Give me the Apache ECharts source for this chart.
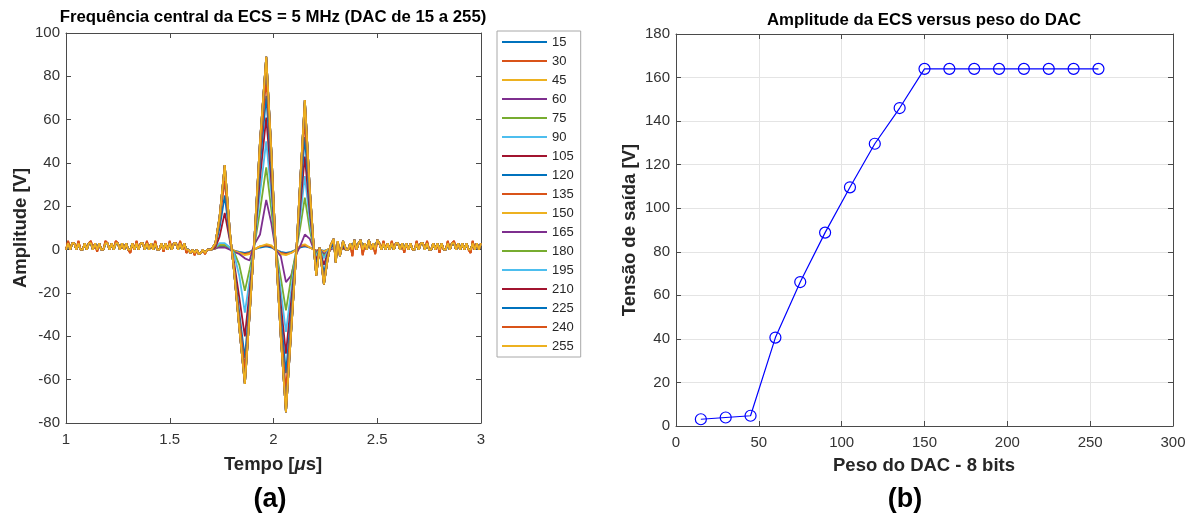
<!DOCTYPE html>
<html>
<head>
<meta charset="utf-8">
<script src="https://cdn.jsdelivr.net/npm/echarts@6/dist/echarts.min.js"></script>
<style>
  html, body { margin: 0; padding: 0; background: #fff; }
  #chart { width: 1195px; height: 515px; }
</style>
</head>
<body>
<div id="chart"></div>
<script>
// ---- DAC weights (legend entries and x values of panel b) ----
const dacWeights = [15, 30, 45, 60, 75, 90, 105, 120, 135, 150, 165, 180, 195, 210, 225, 240, 255];

// ---- Panel (b): output amplitude (peak to peak) for each DAC weight, in V ----
const outputVoltage = [3.1, 3.9, 4.7, 40.6, 66.1, 88.8, 109.6, 129.6, 146, 164, 164, 164, 164, 164, 164, 164, 164];

// ---- Panel (a): sampled waveforms ----
// quiet samples before the pulse: 1.00 .. 1.69 us, and after it: 2.36 .. 3.00 us
const SAMPLE_STEP = 0.01;
const preStart = 1.00;
const postStart = 2.36;

const preNoiseA = [
  0, 3, 0, 3, 3, 0, 3, 0, 0, 3,
  0, 3, 3, 0, 3, 0, 3, 0, 0, 3,
  3, 0, 3, 0, 3, 3, 0, 3, 0, 3,
  0, 0, 3, 0, 3, 0, 3, 3, 0, 3,
  0, 3, 0, 3, 0, 0, 3, 0, 3, 0,
  3, 0, 3, 3, 0, 3, 0, 3, 0, 0,
  -1.5, 0, -1.5, 0, -2, -1.5, 0, -1.5, 0, 0
];
const preNoiseB = [
  0, 4, 0, 3, 3, 0, 4, 0, 0, 3,
  0, 3, 4, 0, 3, -1, 3, 0, 0, 4,
  3, 0, 3, 0, 4, 3, 0, 3, 0, 3,
  0, -1.5, 3, 0, 4, 0, 3, 3, 0, 4,
  0, 3, 0, 4, 0, 0, 3, -1, 3, 0,
  4, 0, 3, 3, 0, 4, 0, 3, -1.5, 0,
  -1.5, 0, -2.5, 0, -2, -1.5, 0, -2, 0, 0
];
const postNoiseA = [
  0, 3, 0, 4.5, 0, 3, 4.5, 0, 3, 0,
  4.5, 0, 3, 0, 4.5, 3, 0, 3, 0, 3,
  0, 3, 0, 3, 3, 0, 3, 0, 3, 0,
  3, 0, 0, 3, 0, 3, 3, 0, 3, 0,
  0, 3, 0, 3, 0, 3, 0, 0, 3, 0,
  3, 3, 0, 3, 0, 3, 0, 3, 0, 0,
  3, 0, 3, 0, 3
];
const postNoiseB = [
  0, 3, -3, 4.5, 0, 3, 4.5, -2.5, 3, 0,
  4.5, 0, 3, -2, 4.5, 3, 0, 4, 0, 3,
  0, 4, 0, 3, 3, 0, 3, -1.5, 3, 0,
  3, 0, 0, 4, 0, 3, 3, 0, 4, 0,
  0, 3, 0, 3, -1.5, 3, 0, 0, 4, 0,
  3, 4, 0, 3, 0, 3, 0, 3, 0, -1.5,
  4, 0, 3, 0, 3
];

// pulse region, sampled at its turning points (us)
const pulseTimes = [
  1.70, 1.72, 1.74, 1.765, 1.79, 1.81, 1.835, 1.862, 1.885, 1.905, 1.935,
  1.965, 1.99, 2.01, 2.035, 2.06, 2.085, 2.11, 2.13, 2.151, 2.175, 2.195,
  2.206, 2.222, 2.243, 2.26, 2.275, 2.29, 2.30, 2.31, 2.32, 2.335, 2.35
];
// amplitude (V) at pulseTimes for each DAC weight
const pulse15  = [0, 0.5, 1.5, 1.5, 0.5, -0.5, -1, -1.5, -1, 0, 1, 1.5, 1, 0, -1, -1.5, -1, 0, 1, 1.5, 1, 0, -0.5, 0, -0.5, 0, 0.5, 0.5, 0, 0.5, 0, 0.5, 0];
const pulse30  = [0, 0.5, 2, 2, 1, -0.5, -1.5, -2, -1.5, 0, 1.5, 2, 1.5, 0, -1.5, -2, -1.5, 0, 1.5, 2, 1, 0, -0.5, 0, -1, 0, 0.5, 1, 0, 0.5, 0, 0.5, 0];
const pulse45  = [0, 1, 2.5, 2.5, 1, -0.5, -1.5, -2.5, -2, 0, 1.5, 2.5, 2, 0, -2, -2.5, -1.5, 0, 2, 2.5, 1, 0, -1, 0, -1, 0, 0.5, 1, -0.5, 0.5, 0, 0.5, 0];
const pulse60  = [0, 1, 1, 1, 0, -1, -2, -4, -5, 2, 7, 23, 12, 0, -3, -15, -12, -2, 2, 7, 5, 0, -1, 0, -2, -1, 0, 1, -1, 1, 0, 1, 0];
const pulse75  = [0, 1, 2, 2, 1, -1, -7, -19, -9, 0, 18, 38, 18, 1, -13, -28, -13, 0, 11, 24, 9, 0, -2, 0, -3, -1, 1, 1, -1, 1, 0, 1, 0];
const pulse90  = [0, 1, 3, 3, 1, -2, -12, -29, -14, 0, 26, 50, 25, 1, -19, -38, -19, 0, 16, 34, 13, 0, -3, 0, -4, -1, 1, 1, -2, 1, -1, 1, 0];
const pulse105 = [0, 1, 6, 17, 4, -6, -22, -40, -19, 0, 33, 61, 31, 1, -25, -48, -24, -1, 21, 43, 17, 0, -5, 0, -7, -2, 1, 2, -3, 2, -1, 1, 0];
const pulse120 = [0, 2, 10, 25, 5, -8, -29, -50, -24, 0, 39, 71, 36, 1, -30, -57, -29, -1, 26, 52, 21, 0, -8, 1, -11, -3, 1, 3, -4, 2, -2, 2, 0];
const pulse135 = [0, 2, 13, 32, 6, -9, -32, -55, -27, 0, 44, 79, 40, 2, -35, -65, -33, -1, 30, 60, 24, 0, -10, 1, -14, -4, 2, 4, -5, 3, -2, 3, 0];
// weights 150 and above saturate the driver
const pulseSaturated = [0, 3, 15, 39, 8, -10, -36, -62, -30, 0, 50, 89, 45, 2, -40, -75, -38, -1, 34, 69, 28, 0, -12, 1, -16, -5, 2, 5, -6, 4, -3, 4, 0];

const pulseByWeight = [
  pulse15, pulse30, pulse45, pulse60, pulse75, pulse90, pulse105, pulse120, pulse135,
  pulseSaturated, pulseSaturated, pulseSaturated, pulseSaturated,
  pulseSaturated, pulseSaturated, pulseSaturated, pulseSaturated
];

// axis ticks
const timeTicks = { min: 1, max: 3, step: 0.5 };
const ampTicks = { min: -80, max: 100, step: 20 };
const weightTicks = { min: 0, max: 300, step: 50 };
const voltTicks = { min: 0, max: 180, step: 20 };

// MATLAB default line colour order
const lineColors = ['#0072BD', '#D95319', '#EDB120', '#7E2F8E', '#77AC30', '#4DBEEE', '#A2142F'];

const FONT = '"Liberation Sans", Arial, Helvetica, sans-serif';
const AXIS_COLOR = '#4a4a4a';
const LABEL_COLOR = '#333333';

function waveform(idx) {
  const color = lineColors[idx % lineColors.length];
  const useB = color === '#D95319';
  const pre = useB ? preNoiseB : preNoiseA;
  const post = useB ? postNoiseB : postNoiseA;
  const pts = [];
  pre.forEach((v, i) => pts.push([+(preStart + i * SAMPLE_STEP).toFixed(3), v]));
  pulseByWeight[idx].forEach((v, i) => pts.push([pulseTimes[i], v]));
  post.forEach((v, i) => pts.push([+(postStart + i * SAMPLE_STEP).toFixed(3), v]));
  return pts;
}

const waveSeries = dacWeights.map((w, idx) => ({
  name: String(w),
  type: 'line',
  xAxisIndex: 0,
  yAxisIndex: 0,
  data: waveform(idx),
  symbol: 'none',
  showSymbol: false,
  animation: false,
  lineStyle: { width: 1.8, color: lineColors[idx % lineColors.length] },
  itemStyle: { color: lineColors[idx % lineColors.length] },
  emphasis: { disabled: true }
}));

const ampSeries = {
  name: 'Amplitude',
  type: 'line',
  xAxisIndex: 2,
  yAxisIndex: 2,
  data: dacWeights.map((w, i) => [w, outputVoltage[i]]),
  symbol: 'circle',
  symbolSize: 11,
  showAllSymbol: true,
  animation: false,
  lineStyle: { width: 1.2, color: '#0000ff' },
  itemStyle: { color: 'rgba(0,0,0,0)', borderColor: '#0000ff', borderWidth: 1.2 },
  emphasis: { disabled: true }
};

function axisBase(t, extra) {
  return Object.assign({
    type: 'value',
    min: t.min,
    max: t.max,
    interval: t.step,
    axisLine: { show: true, onZero: false, lineStyle: { color: AXIS_COLOR, width: 1 } },
    axisTick: { show: true, inside: true, length: 5, lineStyle: { color: AXIS_COLOR } },
    axisLabel: { show: true, color: LABEL_COLOR, fontSize: 15, fontFamily: FONT },
    splitLine: { show: false }
  }, extra);
}
const noLabel = { show: false };
const gridLines = { show: true, lineStyle: { color: '#e4e4e4', width: 1 } };
const tickLabelX = { color: LABEL_COLOR, fontSize: 15, fontFamily: FONT, margin: 9 };
const tickLabelY = { color: LABEL_COLOR, fontSize: 15, fontFamily: FONT, margin: 6 };

const option = {
  backgroundColor: '#ffffff',
  animation: false,
  grid: [
    { left: 66, top: 33, width: 415, height: 390 },
    { left: 676, top: 34, width: 497, height: 392 }
  ],
  xAxis: [
    axisBase(timeTicks, { gridIndex: 0, position: 'bottom', axisLabel: tickLabelX }),
    axisBase(timeTicks, { gridIndex: 0, position: 'top', axisLabel: noLabel }),
    axisBase(weightTicks, { gridIndex: 1, position: 'bottom', splitLine: gridLines, axisLabel: tickLabelX }),
    axisBase(weightTicks, { gridIndex: 1, position: 'top', axisLabel: noLabel })
  ],
  yAxis: [
    axisBase(ampTicks, { gridIndex: 0, position: 'left', axisLabel: tickLabelY }),
    axisBase(ampTicks, { gridIndex: 0, position: 'right', axisLabel: noLabel }),
    axisBase(voltTicks, { gridIndex: 1, position: 'left', splitLine: gridLines, axisLabel: tickLabelY }),
    axisBase(voltTicks, { gridIndex: 1, position: 'right', axisLabel: noLabel })
  ],
  legend: {
    data: dacWeights.map(String),
    orient: 'vertical',
    left: 497,
    top: 31,
    icon: 'rect',
    itemWidth: 45,
    itemHeight: 2,
    itemGap: 5,
    padding: [4, 7, 4, 5],
    borderColor: '#a8a8a8',
    borderWidth: 1,
    backgroundColor: '#ffffff',
    selectedMode: false,
    textStyle: { fontSize: 13, color: '#262626', fontFamily: FONT, lineHeight: 14 }
  },
  graphic: [
    { type: 'text', x: 273, y: 17, style: { text: 'Frequência central da ECS = 5 MHz (DAC de 15 a 255)', font: 'bold 16.8px ' + FONT, fill: '#000', align: 'center', verticalAlign: 'middle' } },
    { type: 'text', x: 924, y: 20, style: { text: 'Amplitude da ECS versus peso do DAC', font: 'bold 16.8px ' + FONT, fill: '#000', align: 'center', verticalAlign: 'middle' } },
    { type: 'text', x: 273, y: 465, style: {
        text: '{b|Tempo [}{i|μ}{b|s]}', align: 'center', verticalAlign: 'middle',
        rich: {
          b: { font: 'bold 18.5px ' + FONT, fill: '#262626' },
          i: { font: 'italic bold 18.5px ' + FONT, fill: '#262626' }
        } } },
    { type: 'text', x: 21, y: 228, rotation: Math.PI / 2, style: { text: 'Amplitude [V]', font: 'bold 18.5px ' + FONT, fill: '#262626', align: 'center', verticalAlign: 'middle' } },
    { type: 'text', x: 924, y: 466, style: { text: 'Peso do DAC - 8 bits', font: 'bold 18.5px ' + FONT, fill: '#262626', align: 'center', verticalAlign: 'middle' } },
    { type: 'text', x: 630, y: 230, rotation: Math.PI / 2, style: { text: 'Tensão de saída [V]', font: 'bold 18.5px ' + FONT, fill: '#262626', align: 'center', verticalAlign: 'middle' } },
    { type: 'text', x: 270, y: 500, style: { text: '(a)', font: 'bold 27px ' + FONT, fill: '#000', align: 'center', verticalAlign: 'middle' } },
    { type: 'text', x: 905, y: 500, style: { text: '(b)', font: 'bold 27px ' + FONT, fill: '#000', align: 'center', verticalAlign: 'middle' } }
  ],
  series: waveSeries.concat([ampSeries])
};

const chart = echarts.init(document.getElementById('chart'), null, { renderer: 'canvas' });
chart.setOption(option);
</script>
</body>
</html>
